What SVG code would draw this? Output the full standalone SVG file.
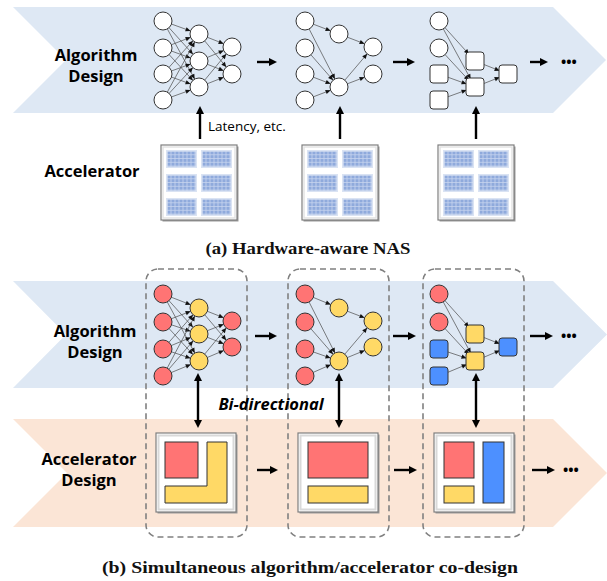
<svg xmlns="http://www.w3.org/2000/svg" width="607" height="581" viewBox="0 0 607 581">
<style>
.lbl{font-family:"Open Sans","Noto Sans",sans-serif;font-weight:700;font-size:16.5px;fill:#000;text-anchor:middle}
.sm{font-family:"Open Sans","Noto Sans",sans-serif;font-size:13.5px;fill:#000}
.bi{font-family:"Open Sans","Noto Sans",sans-serif;font-weight:700;font-style:italic;font-size:16.5px;fill:#000;text-anchor:middle}
.dots{font-family:"Open Sans","Noto Sans",sans-serif;font-weight:700;font-size:14px;fill:#000}
.cap{font-family:"Liberation Serif","Times New Roman",serif;font-weight:700;font-size:17px;fill:#111;text-anchor:middle}
.e line{stroke:#4a4a4a;stroke-width:0.7;fill:none;marker-end:url(#sa)}
.a{stroke:#000;stroke-width:2.4;fill:none;marker-end:url(#ah)}
.d{marker-start:url(#ah)}
.w{fill:#fff;stroke:#333;stroke-width:1}
.r{fill:#ff7474;stroke:#333;stroke-width:1}
.y{fill:#ffd966;stroke:#333;stroke-width:1}
.b{fill:#4d90ff;stroke:#333;stroke-width:1}
.box{fill:none;stroke:#808080;stroke-width:1.6;stroke-dasharray:6 4}
</style>
<defs>
<marker id="sa" markerUnits="userSpaceOnUse" markerWidth="20" markerHeight="6" refX="14" refY="2.25" orient="auto" overflow="visible"><path d="M0,0 L5,2.25 L0,4.5 Z" fill="#111"/></marker>
<marker id="ah" markerUnits="userSpaceOnUse" markerWidth="10" markerHeight="10" refX="2" refY="4" orient="auto-start-reverse" overflow="visible"><path d="M0,0 L8,4 L0,8 Z" fill="#000"/></marker>
<pattern id="cells" patternUnits="userSpaceOnUse" x="1.5" y="1.5" width="4" height="3.75"><rect width="4" height="3.75" fill="#c7d5ef"/><rect width="3.2" height="3" fill="#8faadc"/></pattern>
<g id="blk"><rect width="31" height="18" fill="#dae3f3"/><rect x="1.5" y="1.5" width="28" height="15" fill="url(#cells)"/></g>
<g id="chipA">
<rect x="1.5" y="1.5" width="76" height="75" fill="#9a9a9a"/>
<rect width="76" height="75" fill="#fff" stroke="#7f7f7f" stroke-width="1.2"/>
<rect x="2" y="2" width="72" height="71" fill="none" stroke="#e3e3e3" stroke-width="1.5"/>
<use href="#blk" x="5" y="5"/><use href="#blk" x="40" y="5"/>
<use href="#blk" x="5" y="29"/><use href="#blk" x="40" y="29"/>
<use href="#blk" x="5" y="53"/><use href="#blk" x="40" y="53"/>
</g>
<g id="frameB">
<rect x="1.5" y="1.5" width="80" height="79" fill="#9a9a9a"/>
<rect width="80" height="79" fill="#fff" stroke="#7f7f7f" stroke-width="1.2"/>
<rect x="2.5" y="2.5" width="75" height="74" fill="none" stroke="#d9d9d9" stroke-width="2"/>
</g>
</defs>

<g id="bands">
<path d="M13,7 L553,7 L606,60 L553,113 L13,113 L66,60 Z" fill="#dee8f4"/>
<path d="M13,281 L553,281 L607,334.5 L553,388 L13,388 L66,334.5 Z" fill="#dee8f4"/>
<path d="M13,419 L553,419 L607,473 L553,527 L13,527 L67,473 Z" fill="#fbe5d6"/>
</g>

<g id="box-b1"><rect class="box" x="146" y="269" width="101" height="268" rx="12"/></g>
<g id="box-b2"><rect class="box" x="288" y="269" width="101" height="268" rx="12"/></g>
<g id="box-b3"><rect class="box" x="423" y="269" width="101" height="268" rx="12"/></g>

<g id="connectors">
<g class="e">
<line x1="163" y1="21" x2="199" y2="34"/><line x1="163" y1="21" x2="199" y2="61"/><line x1="163" y1="21" x2="199" y2="87"/>
<line x1="163" y1="48" x2="199" y2="34"/><line x1="163" y1="48" x2="199" y2="61"/><line x1="163" y1="48" x2="199" y2="87"/>
<line x1="163" y1="74" x2="199" y2="34"/><line x1="163" y1="74" x2="199" y2="61"/><line x1="163" y1="74" x2="199" y2="87"/>
<line x1="163" y1="100" x2="199" y2="34"/><line x1="163" y1="100" x2="199" y2="61"/><line x1="163" y1="100" x2="199" y2="87"/>
<line x1="199" y1="34" x2="232" y2="47"/><line x1="199" y1="34" x2="232" y2="74"/>
<line x1="199" y1="61" x2="232" y2="47"/><line x1="199" y1="61" x2="232" y2="74"/>
<line x1="199" y1="87" x2="232" y2="47"/><line x1="199" y1="87" x2="232" y2="74"/>

<line x1="305" y1="21" x2="339" y2="34"/><line x1="305" y1="21" x2="339" y2="87"/>
<line x1="305" y1="48" x2="339" y2="87"/><line x1="305" y1="74" x2="339" y2="87"/><line x1="305" y1="100" x2="339" y2="87"/>
<line x1="339" y1="34" x2="373" y2="47"/><line x1="339" y1="87" x2="373" y2="47"/><line x1="339" y1="87" x2="373" y2="74"/>

<line x1="439" y1="21" x2="475" y2="61"/><line x1="439" y1="21" x2="475" y2="87"/>
<line x1="439" y1="48" x2="475" y2="87"/><line x1="439" y1="74" x2="475" y2="87"/><line x1="439" y1="100" x2="475" y2="87"/>
<line x1="475" y1="61" x2="508" y2="74"/><line x1="475" y1="87" x2="508" y2="74"/>

<line x1="163" y1="294" x2="199" y2="308"/><line x1="163" y1="294" x2="199" y2="334"/><line x1="163" y1="294" x2="199" y2="361"/>
<line x1="163" y1="322" x2="199" y2="308"/><line x1="163" y1="322" x2="199" y2="334"/><line x1="163" y1="322" x2="199" y2="361"/>
<line x1="163" y1="349" x2="199" y2="308"/><line x1="163" y1="349" x2="199" y2="334"/><line x1="163" y1="349" x2="199" y2="361"/>
<line x1="163" y1="376" x2="199" y2="308"/><line x1="163" y1="376" x2="199" y2="334"/><line x1="163" y1="376" x2="199" y2="361"/>
<line x1="199" y1="308" x2="232" y2="321"/><line x1="199" y1="308" x2="232" y2="347"/>
<line x1="199" y1="334" x2="232" y2="321"/><line x1="199" y1="334" x2="232" y2="347"/>
<line x1="199" y1="361" x2="232" y2="321"/><line x1="199" y1="361" x2="232" y2="347"/>

<line x1="305" y1="294" x2="339" y2="308"/><line x1="305" y1="294" x2="339" y2="361"/>
<line x1="305" y1="322" x2="339" y2="361"/><line x1="305" y1="349" x2="339" y2="361"/><line x1="305" y1="376" x2="339" y2="361"/>
<line x1="339" y1="308" x2="373" y2="321"/><line x1="339" y1="361" x2="373" y2="321"/><line x1="339" y1="361" x2="373" y2="347"/>

<line x1="439" y1="294" x2="475" y2="334"/><line x1="439" y1="294" x2="475" y2="361"/>
<line x1="439" y1="322" x2="475" y2="361"/><line x1="439" y1="349" x2="475" y2="361"/><line x1="439" y1="376" x2="475" y2="361"/>
<line x1="475" y1="334" x2="508" y2="347"/><line x1="475" y1="361" x2="508" y2="347"/>
</g>
<line class="a" x1="257" y1="62" x2="271" y2="62"/>
<line class="a" x1="393" y1="62" x2="409" y2="62"/>
<line class="a" x1="530" y1="62" x2="542" y2="62"/>
<line class="a" x1="200" y1="139" x2="200" y2="112"/>
<line class="a" x1="340" y1="139" x2="340" y2="112"/>
<line class="a" x1="476" y1="139" x2="476" y2="112"/>
<line class="a" x1="255" y1="336" x2="271" y2="336"/>
<line class="a" x1="393" y1="336" x2="410" y2="336"/>
<line class="a" x1="530" y1="336" x2="547" y2="336"/>
<line class="a d" x1="198" y1="379" x2="198" y2="422"/>
<line class="a d" x1="339" y1="379" x2="339" y2="422"/>
<line class="a d" x1="476" y1="379" x2="476" y2="422"/>
<line class="a" x1="257" y1="470" x2="272" y2="470"/>
<line class="a" x1="394" y1="470" x2="411" y2="470"/>
<line class="a" x1="532" y1="470" x2="549" y2="470"/>
</g>

<g id="label-algorithm-a"><text class="lbl" x="96" y="61">Algorithm</text><text class="lbl" x="96" y="82">Design</text></g>
<g id="label-accelerator-a"><text class="lbl" x="92" y="177">Accelerator</text></g>
<g id="label-latency"><text class="sm" x="208" y="131">Latency, etc.</text></g>

<g id="net-a1">
<circle class="w" cx="163" cy="21" r="9"/><circle class="w" cx="163" cy="48" r="9"/><circle class="w" cx="163" cy="74" r="9"/><circle class="w" cx="163" cy="100" r="9"/>
<circle class="w" cx="199" cy="34" r="9"/><circle class="w" cx="199" cy="61" r="9"/><circle class="w" cx="199" cy="87" r="9"/>
<circle class="w" cx="232" cy="47" r="9"/><circle class="w" cx="232" cy="74" r="9"/>
</g>
<g id="net-a2">
<circle class="w" cx="305" cy="21" r="9"/><circle class="w" cx="305" cy="48" r="9"/><circle class="w" cx="305" cy="74" r="9"/><circle class="w" cx="305" cy="100" r="9"/>
<circle class="w" cx="339" cy="34" r="9"/><circle class="w" cx="339" cy="87" r="9"/>
<circle class="w" cx="373" cy="47" r="9"/><circle class="w" cx="373" cy="74" r="9"/>
</g>
<g id="net-a3">
<circle class="w" cx="439" cy="21" r="9"/><circle class="w" cx="439" cy="48" r="9"/>
<rect class="w" x="430" y="65" width="18" height="18" rx="3"/><rect class="w" x="430" y="91" width="18" height="18" rx="3"/>
<rect class="w" x="466" y="52" width="18" height="18" rx="3"/><rect class="w" x="466" y="78" width="18" height="18" rx="3"/>
<rect class="w" x="499" y="65" width="18" height="18" rx="3"/>
</g>
<g id="dots-a"><text class="dots" x="561" y="67">•••</text></g>

<g id="chip-a1"><use href="#chipA" x="161" y="145"/></g>
<g id="chip-a2"><use href="#chipA" x="302" y="145"/></g>
<g id="chip-a3"><use href="#chipA" x="438" y="145"/></g>

<g id="caption-a"><text class="cap" x="308" y="254" textLength="205" lengthAdjust="spacingAndGlyphs">(a) Hardware-aware NAS</text></g>

<g id="label-algorithm-b"><text class="lbl" x="95" y="337">Algorithm</text><text class="lbl" x="95" y="358">Design</text></g>
<g id="label-accelerator-b"><text class="lbl" x="89" y="465">Accelerator</text><text class="lbl" x="89" y="486">Design</text></g>

<g id="net-b1">
<circle class="r" cx="163" cy="294" r="9"/><circle class="r" cx="163" cy="322" r="9"/><circle class="r" cx="163" cy="349" r="9"/><circle class="r" cx="163" cy="376" r="9"/>
<circle class="y" cx="199" cy="308" r="9"/><circle class="y" cx="199" cy="334" r="9"/><circle class="y" cx="199" cy="361" r="9"/>
<circle class="r" cx="232" cy="321" r="9"/><circle class="r" cx="232" cy="347" r="9"/>
</g>
<g id="net-b2">
<circle class="r" cx="305" cy="294" r="9"/><circle class="r" cx="305" cy="322" r="9"/><circle class="r" cx="305" cy="349" r="9"/><circle class="r" cx="305" cy="376" r="9"/>
<circle class="y" cx="339" cy="308" r="9"/><circle class="y" cx="339" cy="361" r="9"/>
<circle class="y" cx="373" cy="321" r="9"/><circle class="y" cx="373" cy="347" r="9"/>
</g>
<g id="net-b3">
<circle class="r" cx="439" cy="294" r="9"/><circle class="r" cx="439" cy="322" r="9"/>
<rect class="b" x="430" y="340" width="18" height="18" rx="3"/><rect class="b" x="430" y="367" width="18" height="18" rx="3"/>
<rect class="y" x="466" y="325" width="18" height="18" rx="3"/><rect class="y" x="466" y="352" width="18" height="18" rx="3"/>
<rect class="b" x="499" y="338" width="18" height="18" rx="3"/>
</g>
<g id="dots-b1"><text class="dots" x="561" y="341">•••</text></g>
<g id="label-bidirectional"><text class="bi" x="271" y="410">Bi-directional</text></g>

<g id="chip-b1"><use href="#frameB" x="156" y="433"/>
<rect class="r" x="165" y="442" width="33" height="36"/>
<path class="y" d="M207,442 H227 V503 H165 V486 H207 Z"/></g>
<g id="chip-b2"><use href="#frameB" x="298" y="433"/>
<rect class="r" x="308" y="442" width="60" height="36"/>
<rect class="y" x="308" y="486" width="60" height="17"/></g>
<g id="chip-b3"><use href="#frameB" x="434" y="433"/>
<rect class="r" x="444" y="442" width="30" height="36"/>
<rect class="y" x="444" y="486" width="30" height="17"/>
<rect class="b" x="483" y="442" width="21" height="61"/></g>
<g id="dots-b2"><text class="dots" x="563" y="475">•••</text></g>

<g id="caption-b"><text class="cap" x="310" y="573" textLength="416" lengthAdjust="spacingAndGlyphs">(b) Simultaneous algorithm/accelerator co-design</text></g>
</svg>
